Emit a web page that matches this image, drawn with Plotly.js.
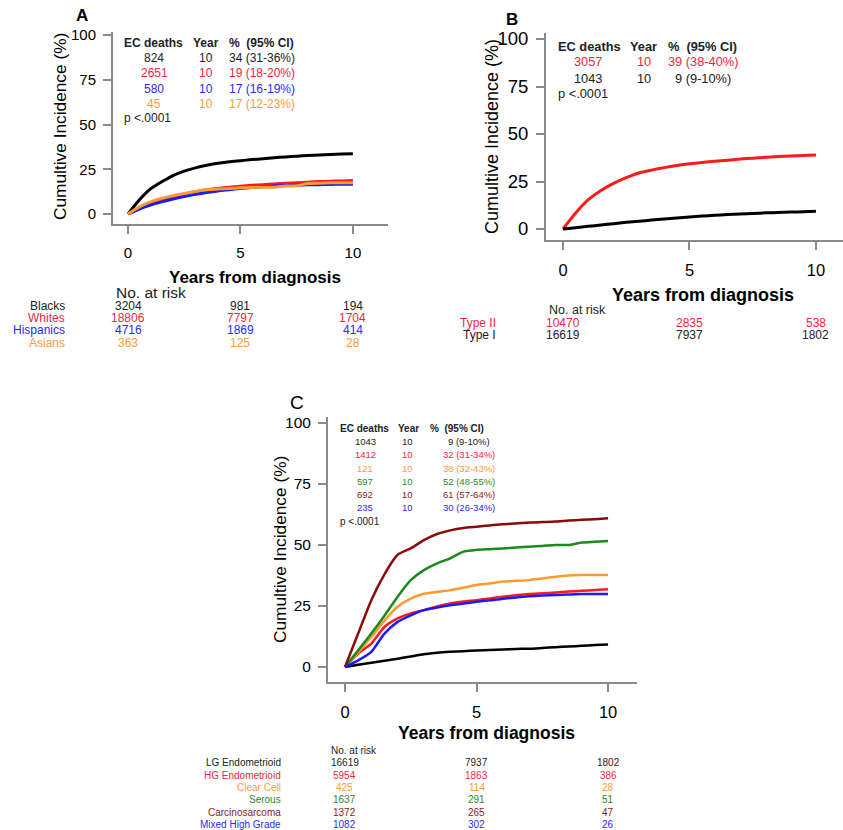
<!DOCTYPE html>
<html>
<head>
<meta charset="utf-8">
<script src="https://cdn.plot.ly/plotly-3.0.1.min.js"></script>
<style>html,body{margin:0;padding:0;background:#fff}#chart{width:843px;height:830px}</style>
</head>
<body>
<div id="chart"></div>
<script>
// ---------- DATA ----------
const years = [0,0.5,1,1.5,2,2.5,3,3.5,4,4.5,5,5.5,6,6.5,7,7.5,8,8.5,9,9.5,10];
const riskYears = [0, 5, 10];

// Panel A: race/ethnicity
const aBlacks    = [0,7.8,14,18,21.5,24,25.8,27.2,28.3,29.2,29.8,30.4,30.9,31.4,31.9,32.3,32.7,33.0,33.3,33.5,33.7];
const aWhites    = [0,3.5,6.2,8.2,9.8,11.2,12.5,13.5,14.3,15.0,15.5,16.0,16.4,16.8,17.2,17.5,17.8,18.1,18.3,18.5,18.7];
const aHispanics = [0,2.8,5.0,6.8,8.4,9.8,11.0,12.0,12.9,13.6,14.3,14.8,15.2,15.6,15.9,16.1,16.3,16.4,16.5,16.6,16.6];
const aAsians    = [0,4.0,6.8,8.8,10.2,11.5,12.6,13.5,14.0,14.3,14.6,14.8,15.0,15.0,15.6,15.8,17.0,17.2,17.4,17.5,17.5];
const aGroups = ["Blacks","Whites","Hispanics","Asians"];
const aDeaths = ["824","2651","580","45"];
const aYear = ["10","10","10","10"];
const aPct = ["34 (31-36%)","19 (18-20%)","17 (16-19%)","17 (12-23%)"];
const aRisk = [[3204,981,194],[18806,7797,1704],[4716,1869,414],[363,125,28]];

// Panel B: type
const bTypeII = [0,8.4,15.4,20.3,24.0,27.0,29.5,31.0,32.3,33.4,34.3,35.0,35.7,36.2,36.8,37.3,37.7,38.1,38.4,38.7,39.0];
const bTypeI  = [0,0.7,1.4,2.1,2.8,3.5,4.1,4.7,5.3,5.8,6.3,6.8,7.2,7.6,7.9,8.2,8.5,8.7,8.9,9.1,9.3];
const bGroups = ["Type II","Type I"];
const bDeaths = ["3057","1043"];
const bYear = ["10","10"];
const bPct = ["39 (38-40%)","9 (9-10%)"];
const bRisk = [[10470,2835,538],[16619,7937,1802]];

// Panel C: histology
const cLG   = [0,0.9,1.7,2.6,3.4,4.3,5.2,5.8,6.2,6.5,6.8,7.0,7.2,7.4,7.5,7.8,8.1,8.4,8.7,9.0,9.2];
const cHG   = [0,5.5,9.6,16.4,19.9,22,23.3,24.8,26,26.8,27.4,28.1,28.8,29.4,29.9,30.2,30.5,30.9,31.2,31.6,31.9];
const cCC   = [0,6,12.3,19,24.7,28,30,30.8,31.5,32.5,33.6,34.2,35,35.3,35.6,36.3,37,37.5,37.7,37.7,37.7];
const cSer  = [0,6.8,13.7,21,28.8,35.6,39.7,42.5,44.5,47.3,48,48.3,48.6,49,49.3,49.6,50,50,51,51.3,51.6];
const cCS   = [0,13.7,27.4,38,46,48.6,52,54.5,56,57,57.5,58,58.5,58.8,59.2,59.4,59.6,60,60.3,60.6,61];
const cMix  = [0,2.7,6.2,13.7,18.5,21.2,23.3,24.4,25.3,26,26.7,27.3,28,28.5,29,29.3,29.5,29.7,29.9,29.9,29.9];
const cGroups = ["LG Endometrioid","HG Endometrioid","Clear Cell","Serous","Carcinosarcoma","Mixed High Grade"];
const cDeaths = ["1043","1412","121","597","692","235"];
const cYear = ["10","10","10","10","10","10"];
const cPct = ["9 (9-10%)","32 (31-34%)","38 (32-43%)","52 (48-55%)","61 (57-64%)","30 (26-34%)"];
const cRisk = [[16619,7937,1802],[5954,1863,386],[425,114,28],[1637,291,51],[1372,265,47],[1082,302,26]];

const yTicks = [0,25,50,75,100];
const xTicks = [0,5,10];

// ---------- STYLE ----------
const FONT = "Liberation Sans, Arial, sans-serif";
const TXT = "#222222";
const RED = "#ff1a1a", BLUE = "#1a1aff", ORANGE = "#ff9a2e", GREEN = "#1a8a1a", DRED = "#8b0a0a";
const aLine = ["#000000", RED, BLUE, ORANGE];
const aText = [TXT, "#f0283c", "#2a2aff", "#ff9a3a"];
const bLine = [RED, "#000000"];
const bText = ["#f0283c", TXT];
const cLine = ["#000000", RED, ORANGE, GREEN, DRED, BLUE];
const cText = [TXT, "#f0283c", "#ff9a3a", "#2a8a2a", "#8b1a1a", "#2a2aff"];

const W = 843, H = 830;
const px = x => x / W;
const py = y => 1 - y / H;

const traces = [];
function addTrace(ys, color, xa, ya, w) {
  traces.push({x: years, y: ys, type: "scatter", mode: "lines", xaxis: xa, yaxis: ya,
    line: {color: color, width: w, shape: "spline", smoothing: 0.6}, hoverinfo: "skip"});
}
[aBlacks, aWhites, aHispanics, aAsians].forEach((s, i) => addTrace(s, aLine[i], "x", "y", 3));
[bTypeII, bTypeI].forEach((s, i) => addTrace(s, bLine[i], "x2", "y2", 3));
[cLG, cHG, cCC, cSer, cCS, cMix].forEach((s, i) => addTrace(s, cLine[i], "x3", "y3", 2.5));

const ann = [];
function T(text, x, y, size, color, xanchor, opts) {
  const a = Object.assign({text: text, x: px(x), y: py(y), xref: "paper", yref: "paper",
    showarrow: false, xanchor: xanchor || "left", yanchor: "middle", borderpad: 0,
    font: {family: FONT, size: size, color: color || TXT}}, opts || {});
  ann.push(a);
}
function R(text, xv, xref, y, size, color) {
  ann.push({text: text, x: xv, y: py(y), xref: xref, yref: "paper", showarrow: false, borderpad: 0,
    xanchor: "center", yanchor: "middle", font: {family: FONT, size: size, color: color}});
}

// Panel letters
T("<b>A</b>", 82, 15, 17, "#000", "center");
T("<b>B</b>", 512, 20, 17, "#000", "center");
T("C", 297, 402, 19, "#000", "center");

// Axis titles
T("<b>Years from diagnosis</b>", 255, 277, 17, "#000", "center");
T("<b>Years from diagnosis</b>", 703, 295, 18, "#000", "center");
T("<b>Years from diagnosis</b>", 486, 733, 17.5, "#000", "center");
T("Cumultive Incidence (%)", 60, 127, 17.3, "#000", "center", {textangle: -90});
T("Cumultive Incidence (%)", 492, 137, 18, "#000", "center", {textangle: -90});
T("Cumultive Incidence (%)", 280, 550, 17.3, "#000", "center", {textangle: -90});

// Panel A inset table
T("<b>EC deaths</b>", 123, 43, 12, TXT);
T("<b>Year</b>", 192, 43, 12, TXT);
T("<b>%  (95% CI)</b>", 228, 43, 12, TXT);
[58, 73, 88.5, 103.5].forEach((y, i) => {
  T(aDeaths[i], 154, y, 12, aText[i], "center");
  T(aYear[i], 206, y, 12, aText[i], "center");
  T(aPct[i], 228, y, 12, aText[i], "left");
});
T("p <.0001", 123, 118, 12, TXT);

// Panel A risk table
T("No. at risk", 115, 292, 15.5, TXT);
[306, 318, 330, 342.5].forEach((y, i) => {
  T(aGroups[i], 66, y, 12, aText[i], "right");
  riskYears.forEach((yr, j) => R(String(aRisk[i][j]), yr, "x", y, 12, aText[i]));
});

// Panel B inset table
T("<b>EC deaths</b>", 557, 47, 12.8, TXT);
T("<b>Year</b>", 629, 47, 12.8, TXT);
T("<b>%  (95% CI)</b>", 667, 47, 12.8, TXT);
[62, 78].forEach((y, i) => {
  T(bDeaths[i], 588, y, 12.8, bText[i], "center");
  T(bYear[i], 644, y, 12.8, bText[i], "center");
  T(bPct[i], i === 0 ? 667 : 674, y, 12.8, bText[i], "left");
});
T("p <.0001", 557, 94, 12.8, TXT);

// Panel B risk table
T("No. at risk", 548, 310.5, 12.5, TXT);
[323, 335].forEach((y, i) => {
  T(bGroups[i], 497, y, 12, bText[i], "right");
  riskYears.forEach((yr, j) => R(String(bRisk[i][j]), yr, "x2", y, 12, bText[i]));
});

// Panel C inset table
T("<b>EC deaths</b>", 339, 428, 10, TXT);
T("<b>Year</b>", 397, 428, 10, TXT);
T("<b>%  (95% CI)</b>", 429, 428, 10, TXT);
[441, 454.5, 468, 481, 494.5, 507.5].forEach((y, i) => {
  T(cDeaths[i], 365, y, 9.5, cText[i], "center");
  T(cYear[i], 407, y, 9.5, cText[i], "center");
  T(cPct[i], i === 0 ? 447 : 442, y, 9.5, cText[i], "left");
});
T("p <.0001", 339, 521, 10, TXT);

// Panel C risk table
T("No. at risk", 330, 750, 10, TXT);
[762, 775, 787, 799, 812, 824].forEach((y, i) => {
  T(cGroups[i], 282, y, 10, cText[i], "right");
  riskYears.forEach((yr, j) => R(String(cRisk[i][j]), yr, "x3", y, 10, cText[i]));
});

function xax(domain, range, anchor, fs) {
  return {domain: domain, range: range, anchor: anchor, showline: true, linecolor: "#8a8a8a", linewidth: 2,
    ticks: "outside", ticklen: 8, tickwidth: 2, tickcolor: "#8a8a8a", tickvals: xTicks,
    showgrid: false, zeroline: false, fixedrange: true, ticklabelstandoff: 6,
    tickfont: {family: FONT, size: fs, color: "#000"}};
}
function yax(domain, range, anchor, fs) {
  return {domain: domain, range: range, anchor: anchor, showline: true, linecolor: "#8a8a8a", linewidth: 2,
    ticks: "outside", ticklen: 8, tickwidth: 2, tickcolor: "#8a8a8a", tickvals: yTicks,
    showgrid: false, zeroline: false, fixedrange: true, ticklabelstandoff: 4,
    tickfont: {family: FONT, size: fs, color: "#000"}};
}

const layout = {
  width: W, height: H, autosize: false, showlegend: false,
  margin: {l: 0, r: 0, t: 0, b: 0, pad: 0},
  paper_bgcolor: "#ffffff", plot_bgcolor: "rgba(0,0,0,0)",
  xaxis:  xax([px(113), px(388)], [-0.667, 11.56], "y", 15),
  yaxis:  yax([py(224), py(32)], [-5.59, 101.7], "x", 15),
  xaxis2: xax([px(546), 1], [-0.672, 11.07], "y2", 16.5),
  yaxis2: yax([py(240), py(33)], [-5.79, 103.16], "x2", 18.5),
  xaxis3: xax([px(328), px(637)], [-0.646, 11.1], "y3", 16.5),
  yaxis3: yax([py(682), py(417)], [-6.15, 102.46], "x3", 15.5),
  annotations: ann
};

Plotly.newPlot("chart", traces, layout, {staticPlot: true, displayModeBar: false});
</script>
</body>
</html>
